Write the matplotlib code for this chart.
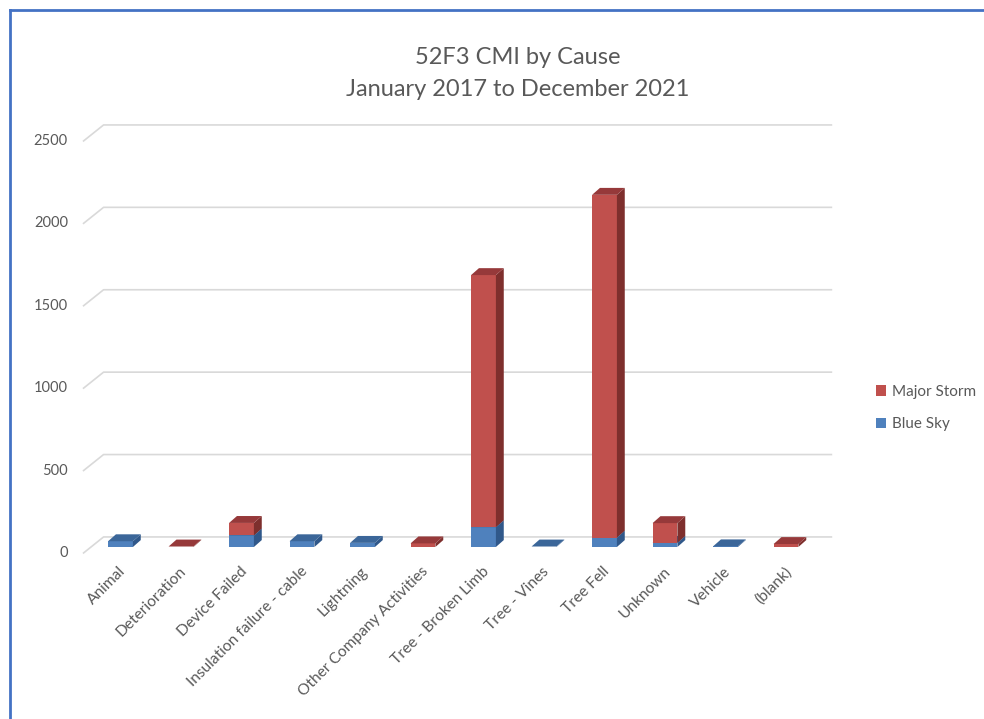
import matplotlib
matplotlib.use("Agg")
import matplotlib.pyplot as plt
from matplotlib.patches import Polygon, Rectangle, Patch
from matplotlib.lines import Line2D

plt.rcParams['font.family'] = ['Lato', 'DejaVu Sans']

# Data
causes = ["Animal", "Deterioration", "Device Failed", "Insulation failure - cable",
          "Lightning", "Other Company Activities", "Tree - Broken Limb", "Tree - Vines",
          "Tree Fell", "Unknown", "Vehicle", "(blank)"]
blue_sky = [35, 0, 70, 35, 25, 0, 120, 3, 57, 25, 4, 0]
major_storm = [0, 3, 76, 0, 0, 22, 1530, 0, 2080, 120, 0, 18]
y_ticks = [0, 500, 1000, 1500, 2000, 2500]

# Colours: front, side, top
RED = ("#C0504D", "#7E2F2D", "#96393A")
BLUE = ("#4F81BD", "#30588A", "#3B6699")
TEXT = "#595959"
GRID = "#D9D9D9"

W, H = 984, 719
fig = plt.figure(figsize=(W / 100, H / 100), dpi=100)
# whole-figure axes, data coords mapped straight onto the canvas
ax = fig.add_axes([0, 0, 1, 1])
x0_px, step_px = 120.5, 60.5
y0_px, scale = 547.0, 0.1648
ax.set_xlim(-x0_px / step_px, (W - x0_px) / step_px)
ax.set_ylim((y0_px - H) / scale, y0_px / scale)
ax.axis("off")

# 3D offsets
bw = 0.41          # front face width (category units)
dx = 0.13          # depth to the right
dy = 42            # depth upwards (value units)
wall_dy = 61       # back wall offset
front_dy = -36     # front edge of side wall
wall_left, wall_right = -0.28, 11.75
side_left = -0.61

# gridlines on the back wall + side wall
for g in y_ticks:
    ax.plot([side_left, wall_left, wall_right], [g + front_dy, g + wall_dy, g + wall_dy],
            color=GRID, lw=1.2, zorder=1)
    ax.text(-0.87, g + front_dy, str(g), ha="right", va="center", fontsize=10.5, color=TEXT)


def draw_block(x, y0, y1, cols):
    front, side, top = cols
    l, r = x - bw / 2, x + bw / 2
    ax.add_patch(Rectangle((l, y0), bw, y1 - y0, facecolor=front, edgecolor="none", zorder=3))
    ax.add_patch(Polygon([(r, y0), (r + dx, y0 + dy), (r + dx, y1 + dy), (r, y1)],
                         facecolor=side, edgecolor="none", zorder=3))
    ax.add_patch(Polygon([(l, y1), (l + dx, y1 + dy), (r + dx, y1 + dy), (r, y1)],
                         facecolor=top, edgecolor="none", zorder=3))


for i, (b, m) in enumerate(zip(blue_sky, major_storm)):
    if b > 0:
        draw_block(i, 0, b, BLUE)
    if m > 0:
        draw_block(i, b, b + m, RED)
    ax.text(i - 0.03, -105, causes[i], rotation=45, rotation_mode="anchor",
            ha="right", va="top", fontsize=11.2, color=TEXT, clip_on=False)

# title
fig.text(518 / W, 1 - 57 / H, "52F3 CMI by Cause", ha="center", va="center",
         fontsize=17, color=TEXT)
fig.text(518 / W, 1 - 89 / H, "January 2017 to December 2021", ha="center", va="center",
         fontsize=17, color=TEXT)

# legend
handles = [Patch(facecolor=RED[0], label="Major Storm"),
           Patch(facecolor=BLUE[0], label="Blue Sky")]
fig.legend(handles=handles, loc="center left", bbox_to_anchor=(862 / W, 1 - 408 / H),
           frameon=False, fontsize=11, labelcolor=TEXT, handlelength=0.65,
           handleheight=0.65, handletextpad=0.4, labelspacing=1.2)

# blue chart frame (left and top edges visible)
fig.add_artist(Line2D([10 / W, 10 / W], [0, 1 - 10 / H], color="#4472C4", lw=2,
                      transform=fig.transFigure))
fig.add_artist(Line2D([10 / W, 1], [1 - 10 / H, 1 - 10 / H], color="#4472C4", lw=2,
                      transform=fig.transFigure))

fig.savefig("out.png", dpi=100)
